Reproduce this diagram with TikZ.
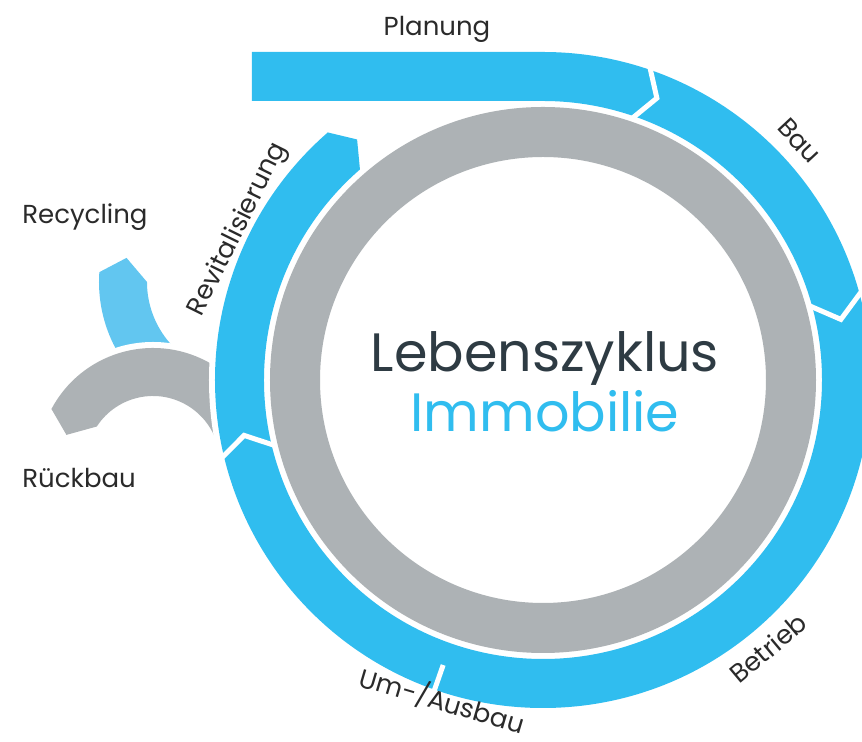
\documentclass[tikz,border=0pt]{standalone}
\usepackage{fontspec}
\setmainfont{Poppins}
\definecolor{phaseblue}{HTML}{30BDEF}
\definecolor{recycleblue}{HTML}{62C6F0}
\definecolor{coregray}{HTML}{ADB2B5}
\definecolor{labelgray}{HTML}{2A2A2A}
\definecolor{titlegray}{HTML}{2E3B43}

\begin{document}
\begin{tikzpicture}[x=0.5pt,y=0.5pt]
        \tikzstyle{every node}=[text=labelgray, font=\fontsize{13}{15}\selectfont, inner sep=0pt]
        \tikzstyle{gap}=[draw=white, line width=2.5pt]
        \tikzstyle{title}=[font=\fontsize{27}{31}\selectfont, anchor=base]
        \clip (-543,-362) rectangle (319,380);
        % kleiner Kreislauf links
        \begin{scope}[shift={(-303,98)}]
            \fill[recycleblue] (176:141) arc[start angle=176, end angle=240, radius=141] -- (240:93) arc[start angle=240, end angle=180, radius=93] -- (168:116) -- cycle;
        \end{scope}
        \begin{scope}[shift={(-390,-83)}]
            \fill[white] (0,0) circle[radius=121];
            \fill[coregray] (152:115) arc[start angle=152, end angle=10, radius=115] -- (10:67) arc[start angle=10, end angle=147, radius=67] -- (162:91) -- cycle;
        \end{scope}
        % grosser Kreislauf
        \fill[white] (0,0) circle[radius=334];
        \fill[phaseblue] (-291,328) -- (0,328) arc[start angle=90, end angle=-229, radius=328] -- (-232.3:304) -- (-229:279) arc[start angle=-229, end angle=90, radius=279] -- (-291,279) -- cycle;
        \draw[gap] (71.5:334) -- (68:304) -- (71.5:274);
        \draw[gap] (16:334) -- (11.5:304) -- (16:274);
        \draw[gap] (194:334) -- (190.5:304) -- (194:274);
        \draw[gap] (250.7:302) -- (250.7:334);
        \fill[coregray, even odd rule] (0,0) circle[radius=273] (0,0) circle[radius=223];
        % Beschriftung
        \node[anchor=base] (planung) at (-106,344) {Planung};
        \node[rotate=-47] (bau) at (43:351) {Bau};
        \node[rotate=40] (betrieb) at (-50:350) {Betrieb};
        \node[rotate=-16.5] (umbau) at (252.6:336) {Um-/Ausbau};
        \node[rotate=63.7] (revital) at (153.7:340) {Revitalisierung};
        \node[anchor=base west] (recycling) at (-521,156) {Recycling};
        \node[anchor=base west] (rueckbau) at (-521,-108) {Rückbau};
        \node[title, text=titlegray] (zyklus) at (2,8) {Lebenszyklus};
        \node[title, text=phaseblue] (immo) at (2,-52) {Immobilie};
    \end{tikzpicture}
\end{document}
